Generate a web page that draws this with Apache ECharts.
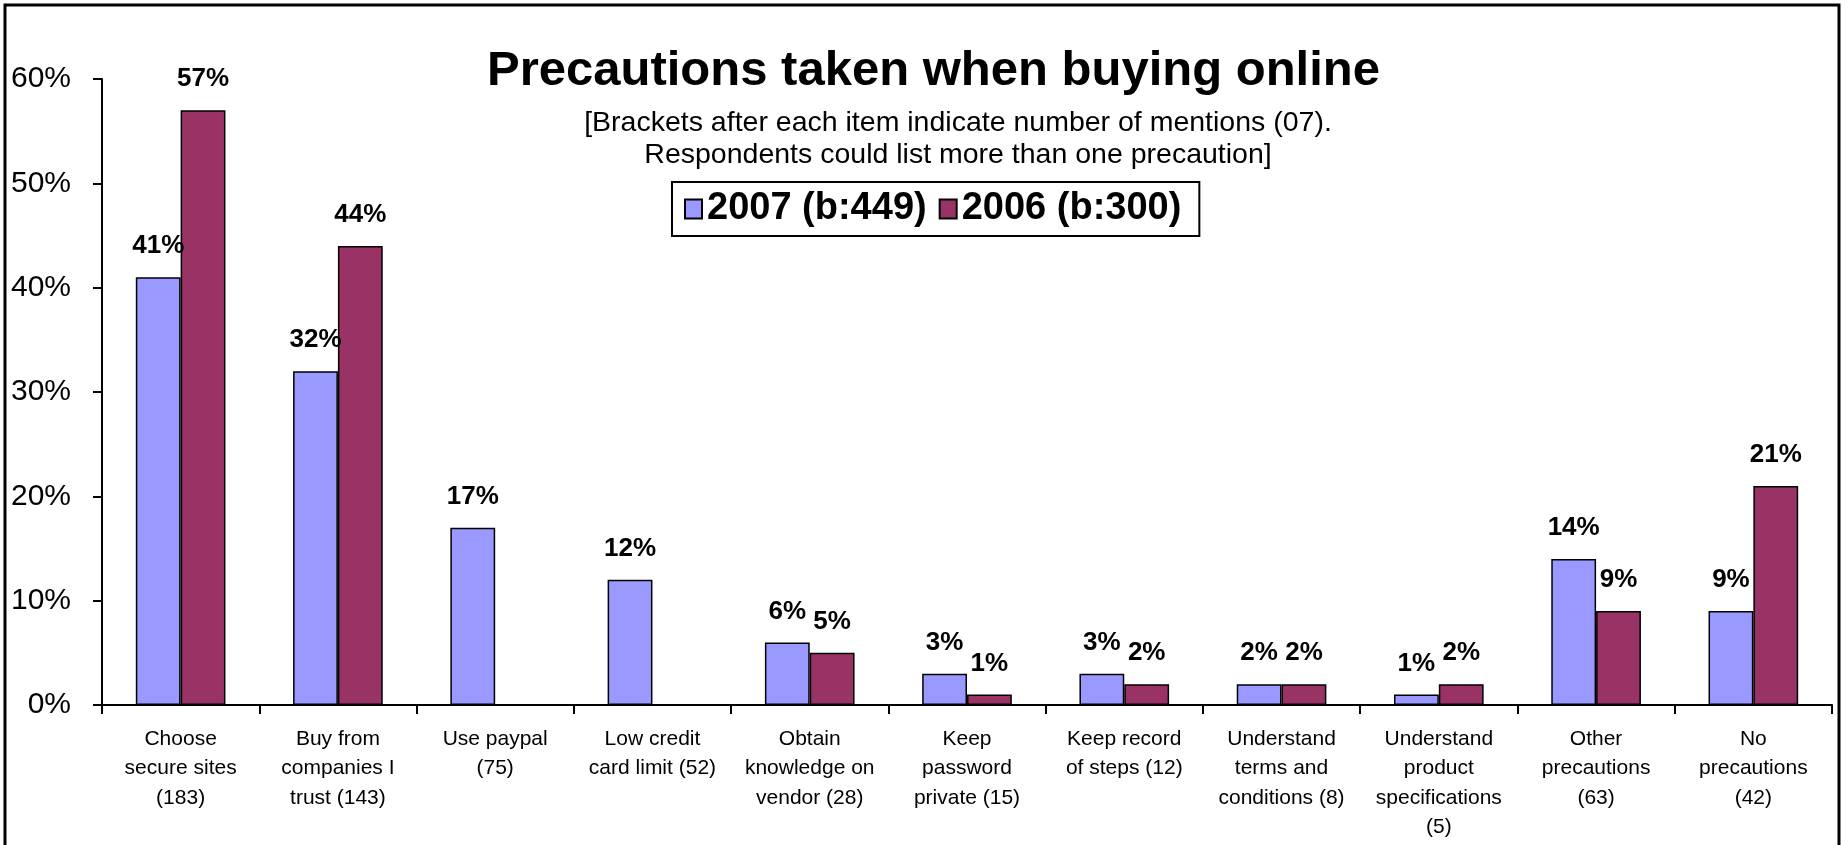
<!DOCTYPE html>
<html>
<head>
<meta charset="utf-8">
<script src="https://cdn.jsdelivr.net/npm/echarts@6/dist/echarts.min.js"></script>
<style>
  html, body { margin: 0; padding: 0; background: #fff; }
  #chart { width: 1845px; height: 845px; }
</style>
</head>
<body>
<div id="chart"></div>
<script>
// categories (bracket = number of mentions in 2007)
var categories = [
  "Choose\nsecure sites\n(183)",
  "Buy from\ncompanies I\ntrust (143)",
  "Use paypal\n(75)",
  "Low credit\ncard limit (52)",
  "Obtain\nknowledge on\nvendor (28)",
  "Keep\npassword\nprivate (15)",
  "Keep record\nof steps (12)",
  "Understand\nterms and\nconditions (8)",
  "Understand\nproduct\nspecifications\n(5)",
  "Other\nprecautions\n(63)",
  "No\nprecautions\n(42)"
];

// percentages
var values2007 = [41, 32, 17, 12, 6, 3, 3, 2, 1, 14, 9];
var values2006 = [57, 44, null, null, 5, 1, 2, 2, 2, 9, 21];

var yTicks = [0, 10, 20, 30, 40, 50, 60];

var chart = echarts.init(document.getElementById("chart"));

var labelStyle = {
  show: true,
  position: "top",
  distance: 18,
  fontFamily: "Liberation Sans, Arial, sans-serif",
  fontWeight: "bold",
  fontSize: 26,
  color: "#000",
  formatter: function (p) { return p.value == null ? "" : p.value + "%"; }
};

var option = {
  backgroundColor: "#fff",
  animation: false,
  title: [
    {
      text: "Precautions taken when buying online",
      left: 482,
      top: 42,
      textStyle: {
        fontFamily: "Liberation Sans, Arial, sans-serif",
        fontWeight: "bold",
        fontSize: 49,
        color: "#000"
      }
    },
    {
      text: "[Brackets after each item indicate number of mentions (07).\nRespondents could list more than one precaution]",
      left: 953,
      top: 102,
      textAlign: "center",
      textStyle: {
        fontFamily: "Liberation Sans, Arial, sans-serif",
        fontWeight: "normal",
        fontSize: 28.5,
        lineHeight: 32,
        color: "#000"
      }
    }
  ],
  legend: {
    left: 672,
    top: 182,
    padding: [8, 18, 8, 12],
    borderColor: "#000",
    borderWidth: 2,
    itemWidth: 17,
    itemHeight: 19,
    itemGap: 12,
    icon: "rect",
    textStyle: {
      fontFamily: "Liberation Sans, Arial, sans-serif",
      fontWeight: "bold",
      fontSize: 38,
      color: "#000"
    },
    data: ["2007 (b:449)", "2006 (b:300)"]
  },
  grid: { left: 102, right: 13, top: 79, bottom: 140 },
  xAxis: {
    type: "category",
    data: categories,
    axisLine: { lineStyle: { color: "#000", width: 2 } },
    axisTick: { show: true, length: 9, lineStyle: { color: "#000", width: 2 } },
    axisLabel: {
      interval: 0,
      margin: 19,
      fontFamily: "Liberation Sans, Arial, sans-serif",
      fontSize: 21,
      lineHeight: 29.5,
      color: "#000"
    }
  },
  yAxis: {
    type: "value",
    min: yTicks[0],
    max: yTicks[yTicks.length - 1],
    interval: 10,
    splitLine: { show: false },
    axisLine: { show: true, lineStyle: { color: "#000", width: 2 } },
    axisTick: { show: true, length: 9, lineStyle: { color: "#000", width: 2 } },
    axisLabel: {
      margin: 31,
      fontFamily: "Liberation Sans, Arial, sans-serif",
      fontSize: 30,
      color: "#000",
      formatter: "{value}%"
    }
  },
  series: [
    {
      name: "2007 (b:449)",
      type: "bar",
      data: values2007,
      barGap: "0%",
      barCategoryGap: "43%",
      itemStyle: { color: "#9999FF", borderColor: "#000", borderWidth: 1.5 },
      label: labelStyle
    },
    {
      name: "2006 (b:300)",
      type: "bar",
      data: values2006,
      barGap: "0%",
      barCategoryGap: "43%",
      itemStyle: { color: "#993366", borderColor: "#000", borderWidth: 1.5 },
      label: labelStyle
    }
  ],
  graphic: [
    {
      type: "rect",
      shape: { x: 5, y: 5, width: 1834, height: 900 },
      style: { fill: null, stroke: "#000", lineWidth: 3 },
      silent: true
    }
  ]
};

chart.setOption(option);
</script>
</body>
</html>
